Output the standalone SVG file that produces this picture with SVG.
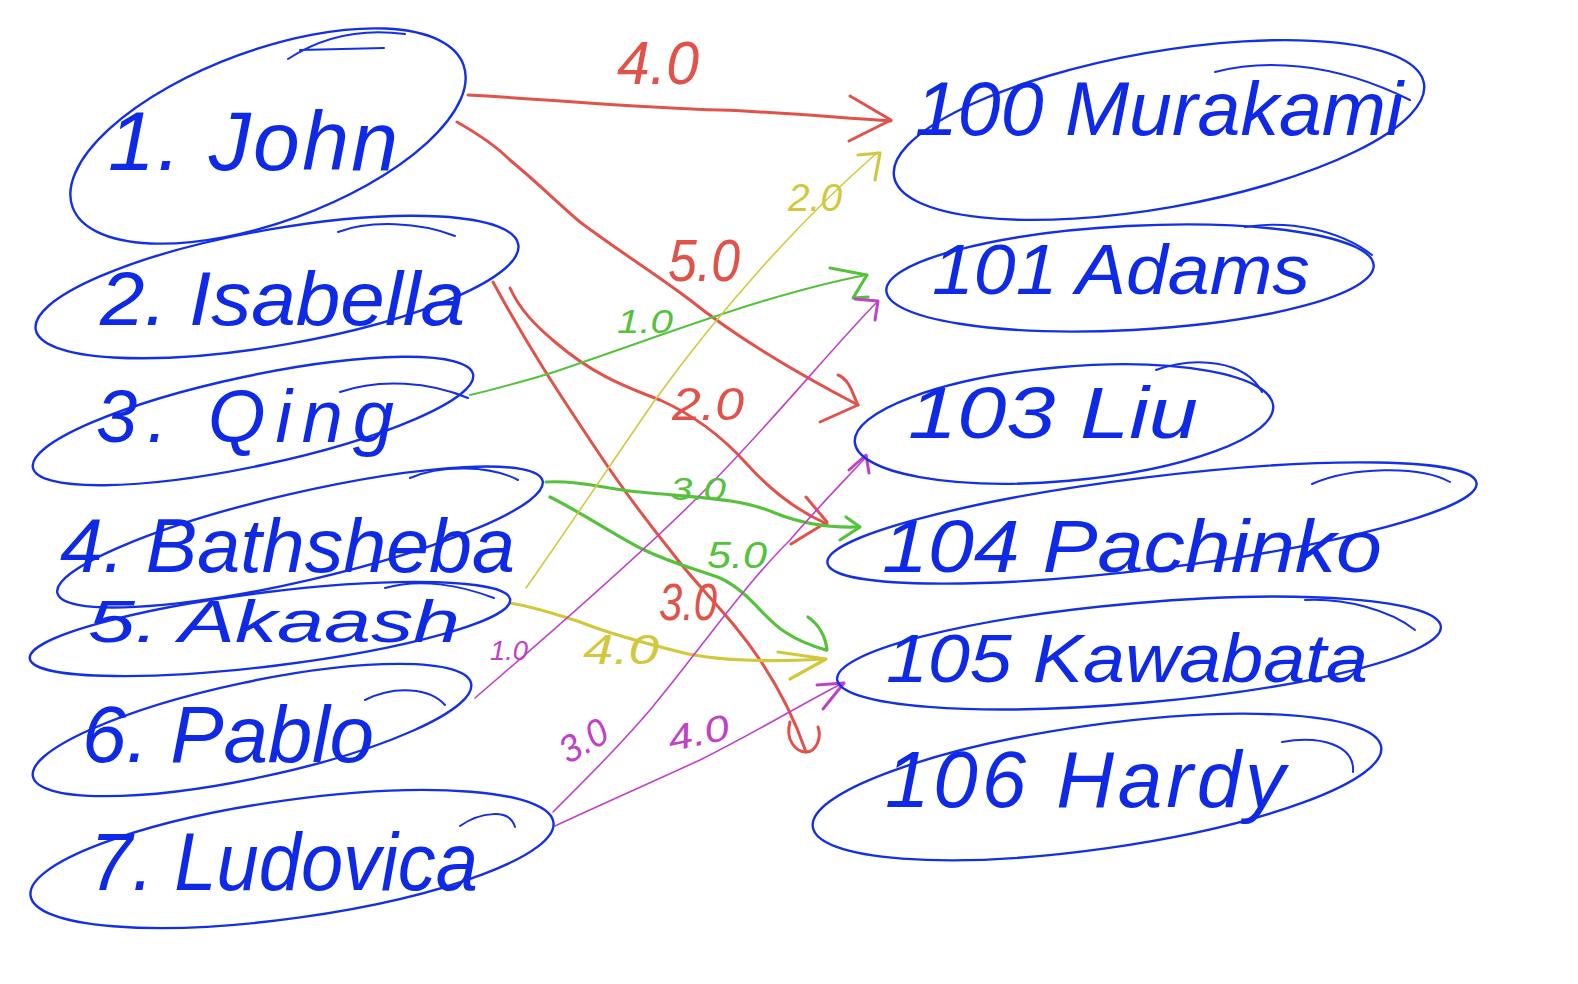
<svg xmlns="http://www.w3.org/2000/svg" width="1578" height="984" viewBox="0 0 1578 984">
<style>
  .ring{fill:none;stroke:#1330e8;stroke-width:2.4;stroke-linecap:round}
  .tail{fill:none;stroke:#1330e8;stroke-width:2;stroke-linecap:round}
  .name{font-family:"Liberation Sans","DejaVu Sans",sans-serif;font-style:italic;fill:#0f2ae6}
  .e{fill:none;stroke-linecap:round;stroke-linejoin:round}
  .r{stroke:#e0524a;stroke-width:3}
  .g{stroke:#55c23c;stroke-width:3.2}
  .gt{stroke:#55c23c;stroke-width:2}
  .y{stroke:#d2c83c;stroke-width:3.2}
  .yt{stroke:#d2c83c;stroke-width:1.6}
  .m{stroke:#c040c8;stroke-width:1.6}
  .mh{stroke:#c040c8;stroke-width:3}
  .lab{font-family:"Liberation Sans","DejaVu Sans",sans-serif;font-style:italic;text-anchor:middle}
</style>
<rect width="1578" height="984" fill="#ffffff"/>

<g id="connectors">
  <!-- red: John -> Murakami -->
  <path class="e r" d="M 468,95 C 560,100 640,108 720,110 C 780,112 840,118 891,121"/>
  <path class="e r" d="M 850,96 L 891,120 L 849,141"/>
  <!-- red: John -> Liu -->
  <path class="e r" d="M 457,122 C 480,135 500,150 510,160 C 540,185 560,205 580,222 C 620,252 650,270 690,300 C 740,340 800,375 858,405"/>
  <path class="e r" d="M 838,375 C 850,380 852,393 858,405 L 820,422"/>
  <!-- red: Isabella -> Pachinko -->
  <path class="e r" d="M 510,288 C 520,310 535,325 555,342 C 590,372 620,385 660,400 C 700,418 725,440 745,462 C 770,490 795,510 827,524"/>
  <path class="e r" d="M 806,497 L 827,522 L 791,544"/>
  <!-- red: Isabella -> Hardy -->
  <path class="e r" d="M 493,282 C 530,350 560,395 600,455 C 630,500 650,525 670,550 C 700,590 730,615 760,660 C 780,690 795,720 806,752"/>
  <path class="e r" d="M 790,722 C 785,740 796,752 806,752 C 816,752 822,738 818,727"/>
  <!-- green: Qing -> Adams -->
  <path class="e gt" d="M 470,395 C 500,388 520,382 548,374 C 620,350 700,320 760,302 C 800,290 830,282 866,275"/>
  <path class="e g" d="M 830,268 L 867,275 L 853,298 L 868,297"/>
  <!-- green: Bathsheba -> Pachinko -->
  <path class="e g" d="M 546,482 C 580,480 610,490 640,492 C 700,498 740,498 775,513 C 800,523 830,528 858,527"/>
  <path class="e g" d="M 846,517 L 860,527 L 840,540"/>
  <!-- green: Bathsheba -> Kawabata -->
  <path class="e g" d="M 550,497 C 580,512 610,532 640,548 C 675,565 700,570 720,578 C 750,592 765,620 785,632 C 800,642 812,646 826,650"/>
  <path class="e g" d="M 808,617 C 815,622 825,632 827,650"/>
  <!-- yellow: Akaash -> Murakami -->
  <path class="e yt" d="M 526,588 C 560,540 600,480 655,400 C 720,310 800,220 878,152"/>
  <path class="e y" d="M 858,155 L 880,153 L 875,180"/>
  <!-- yellow: Akaash -> Kawabata -->
  <path class="e y" d="M 510,603 C 540,608 560,616 580,622 C 610,634 640,642 680,652 C 720,662 770,662 824,659"/>
  <path class="e y" d="M 778,652 L 826,659 L 790,679"/>
  <!-- magenta: Pablo -> Adams -->
  <path class="e m" d="M 475,698 C 560,625 640,555 700,495 C 770,425 830,350 877,302"/>
  <path class="e mh" d="M 855,299 L 878,301 L 875,320"/>
  <!-- magenta: Ludovica -> Liu -->
  <path class="e m" d="M 553,812 C 590,775 620,745 650,710 C 700,650 740,590 790,540 C 820,505 845,480 867,456"/>
  <path class="e mh" d="M 849,470 L 866,455 L 869,473"/>
  <!-- magenta: Ludovica -> Kawabata -->
  <path class="e m" d="M 555,826 C 600,805 650,783 700,760 C 760,730 800,705 843,683"/>
  <path class="e mh" d="M 817,685 L 844,683 L 823,709"/>

  <!-- edge labels -->
  <text class="lab" x="658" y="84" font-size="62" fill="#e0524a" textLength="82" lengthAdjust="spacingAndGlyphs">4.0</text>
  <text class="lab" x="704" y="281" font-size="60" fill="#e0524a" textLength="72" lengthAdjust="spacingAndGlyphs">5.0</text>
  <text class="lab" x="708" y="420" font-size="46" fill="#e0524a" textLength="72" lengthAdjust="spacingAndGlyphs">2.0</text>
  <text class="lab" x="688" y="620" font-size="52" fill="#e0524a" textLength="58" lengthAdjust="spacingAndGlyphs">3.0</text>
  <text class="lab" x="645" y="333" font-size="34" fill="#55c23c" textLength="56" lengthAdjust="spacingAndGlyphs">1.0</text>
  <text class="lab" x="698" y="500" font-size="32" fill="#55c23c" textLength="56" lengthAdjust="spacingAndGlyphs">3.0</text>
  <text class="lab" x="737" y="568" font-size="36" fill="#55c23c" textLength="60" lengthAdjust="spacingAndGlyphs">5.0</text>
  <text class="lab" x="815" y="211" font-size="38" fill="#d2c83c" textLength="54" lengthAdjust="spacingAndGlyphs">2.0</text>
  <text class="lab" x="621" y="664" font-size="42" fill="#d2c83c" textLength="76" lengthAdjust="spacingAndGlyphs">4.0</text>
  <text class="lab" x="509" y="660" font-size="28" fill="#c040c8" textLength="38" lengthAdjust="spacingAndGlyphs">1.0</text>
  <text class="lab" x="0" y="0" font-size="38" fill="#c040c8" textLength="50" lengthAdjust="spacingAndGlyphs" transform="translate(590,752) rotate(-30)">3.0</text>
  <text class="lab" x="0" y="0" font-size="36" fill="#c040c8" textLength="62" lengthAdjust="spacingAndGlyphs" transform="translate(701,745) rotate(-12)">4.0</text>
</g>

<g id="n1">
  <ellipse class="ring" cx="268" cy="136" rx="208" ry="86" transform="rotate(-20 268 136)"/>
  <path class="tail" d="M 288,59 C 320,38 360,28 405,34 M 300,50 L 384,48"/>
  <text class="name" x="108" y="170" font-size="84" textLength="290" lengthAdjust="spacing">1. John</text>
</g>
<g id="n2">
  <ellipse class="ring" cx="277" cy="287" rx="245" ry="58" transform="rotate(-10 277 287)"/>
  <path class="tail" d="M 338,232 C 370,220 420,222 455,236"/>
  <text class="name" x="100" y="325" font-size="76" textLength="365" lengthAdjust="spacingAndGlyphs">2. Isabella</text>
</g>
<g id="n3">
  <ellipse class="ring" cx="253" cy="421" rx="225" ry="45" transform="rotate(-12 253 421)"/>
  <path class="tail" d="M 340,392 C 380,378 430,382 468,398"/>
  <text class="name" x="96" y="442" font-size="74" textLength="298" lengthAdjust="spacing">3. Qing</text>
</g>
<g id="n4">
  <ellipse class="ring" cx="300" cy="537" rx="249" ry="44" transform="rotate(-13 300 537)"/>
  <path class="tail" d="M 410,478 C 440,465 490,465 518,480"/>
  <text class="name" x="60" y="572" font-size="76" textLength="455" lengthAdjust="spacingAndGlyphs">4. Bathsheba</text>
</g>
<g id="n5">
  <ellipse class="ring" cx="270" cy="629" rx="242" ry="37" transform="rotate(-7 270 629)"/>
  <path class="tail" d="M 385,588 C 420,578 460,585 494,598"/>
  <text class="name" x="88" y="642" font-size="60" textLength="372" lengthAdjust="spacingAndGlyphs">5. Akaash</text>
</g>
<g id="n6">
  <ellipse class="ring" cx="252" cy="730" rx="224" ry="48" transform="rotate(-12 252 730)"/>
  <path class="tail" d="M 365,700 C 395,685 430,688 445,705"/>
  <text class="name" x="82" y="762" font-size="80" textLength="292" lengthAdjust="spacing">6. Pablo</text>
</g>
<g id="n7">
  <ellipse class="ring" cx="292" cy="859" rx="264" ry="59" transform="rotate(-8 292 859)"/>
  <path class="tail" d="M 460,826 C 480,812 510,808 515,827"/>
  <text class="name" x="90" y="890" font-size="82" textLength="388" lengthAdjust="spacingAndGlyphs">7. Ludovica</text>
</g>

<g id="n100">
  <ellipse class="ring" cx="1159" cy="130" rx="269" ry="78" transform="rotate(-10 1159 130)"/>
  <path class="tail" d="M 1215,72 C 1260,60 1330,60 1410,100"/>
  <text class="name" x="915" y="135" font-size="76" textLength="488" lengthAdjust="spacingAndGlyphs">100 Murakami</text>
</g>
<g id="n101">
  <ellipse class="ring" cx="1130" cy="278" rx="244" ry="52" transform="rotate(-3 1130 278)"/>
  <path class="tail" d="M 1245,227 C 1290,220 1340,230 1372,255"/>
  <text class="name" x="932" y="294" font-size="70" textLength="378" lengthAdjust="spacingAndGlyphs">101 Adams</text>
</g>
<g id="n103">
  <ellipse class="ring" cx="1064" cy="424" rx="210" ry="57" transform="rotate(-5 1064 424)"/>
  <path class="tail" d="M 1156,370 C 1195,356 1245,360 1262,392"/>
  <text class="name" x="908" y="438" font-size="72" textLength="290" lengthAdjust="spacingAndGlyphs">103 Liu</text>
</g>
<g id="n104">
  <ellipse class="ring" cx="1152" cy="523" rx="327" ry="46" transform="rotate(-7 1152 523)"/>
  <path class="tail" d="M 1312,484 C 1350,467 1420,465 1450,482"/>
  <text class="name" x="882" y="572" font-size="74" textLength="500" lengthAdjust="spacingAndGlyphs">104 Pachinko</text>
</g>
<g id="n105">
  <ellipse class="ring" cx="1139" cy="653" rx="303" ry="50" transform="rotate(-5 1139 653)"/>
  <path class="tail" d="M 1305,600 C 1345,598 1390,610 1415,630"/>
  <text class="name" x="886" y="682" font-size="68" textLength="482" lengthAdjust="spacingAndGlyphs">105 Kawabata</text>
</g>
<g id="n106">
  <ellipse class="ring" cx="1097" cy="787" rx="287" ry="62" transform="rotate(-8 1097 787)"/>
  <path class="tail" d="M 1282,742 C 1320,735 1355,745 1353,772"/>
  <text class="name" x="885" y="807" font-size="80" textLength="400" lengthAdjust="spacing">106 Hardy</text>
</g>
</svg>
